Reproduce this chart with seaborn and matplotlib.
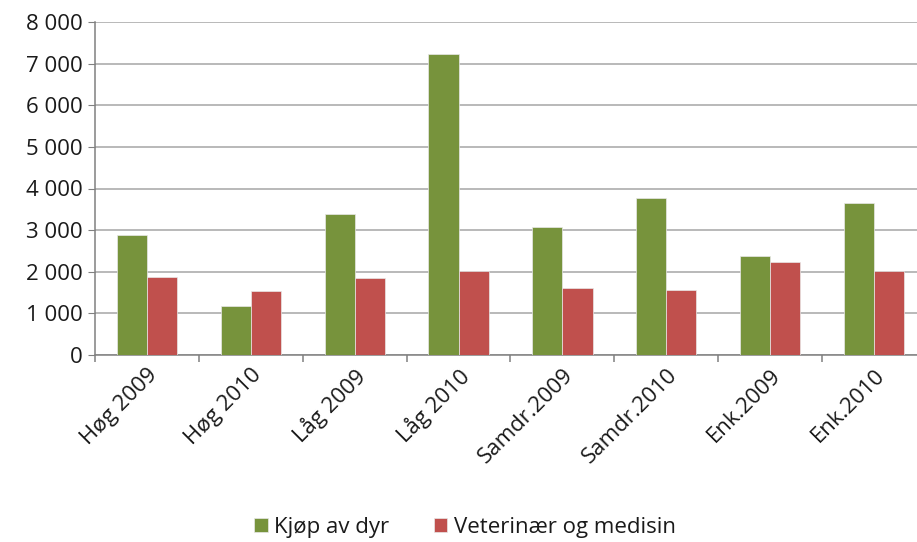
import pandas as pd
import matplotlib.pyplot as plt
import matplotlib.ticker as mticker
import seaborn as sns

# Data
categories = ['Høg 2009', 'Høg 2010', 'Låg 2009', 'Låg 2010',
              'Samdr.2009', 'Samdr.2010', 'Enk.2009', 'Enk.2010']
kjop_av_dyr = [2890, 1180, 3390, 7240, 3080, 3770, 2380, 3650]
veterinaer = [1880, 1540, 1850, 2010, 1610, 1570, 2230, 2010]
series_names = ['Kjøp av dyr', 'Veterinær og medisin']

df = pd.DataFrame({
    'kategori': categories * 2,
    'verdi': kjop_av_dyr + veterinaer,
    'serie': [series_names[0]] * len(categories) + [series_names[1]] * len(categories),
})

sns.set_style('white')
plt.rcParams['font.family'] = ['Open Sans', 'DejaVu Sans']

fig = plt.figure(figsize=(9.17, 5.42), dpi=100)
ax = fig.add_axes([95 / 917, 187 / 542, 831 / 917, 333 / 542])

sns.barplot(data=df, x='kategori', y='verdi', hue='serie',
            palette=['#77933C', '#C0504D'], saturation=1, width=0.58,
            edgecolor='#e8e8e8', linewidth=0.5, ax=ax, zorder=3)

ax.set_xlim(-0.5, len(categories) - 0.5)
ax.set_ylim(0, 8000)
ax.yaxis.set_major_locator(mticker.MultipleLocator(1000))
ax.yaxis.set_major_formatter(mticker.FuncFormatter(lambda v, p: f'{int(v):,}'.replace(',', ' ')))
ax.grid(axis='y', color='#a6a6a6', linewidth=1.1, zorder=0)
ax.set_axisbelow(True)

for s in ['top', 'right']:
    ax.spines[s].set_visible(False)
for s in ['left', 'bottom']:
    ax.spines[s].set_color('#808080')
    ax.spines[s].set_linewidth(1.1)

ax.set_xlabel('')
ax.set_ylabel('')
ax.tick_params(axis='y', which='major', left=True, length=5, color='#808080',
               labelsize=16, labelcolor='#1a1a1a', pad=4)
ax.tick_params(axis='x', which='major', length=0, labelsize=16, labelcolor='#1a1a1a', pad=7)
ax.set_xticks([i + 0.5 for i in range(-1, len(categories))], minor=True)
ax.tick_params(axis='x', which='minor', bottom=True, length=5, color='#808080', width=1.1)
plt.setp(ax.get_xticklabels(), rotation=45, ha='right', rotation_mode='anchor')

handles, labels = ax.get_legend_handles_labels()
ax.get_legend().remove()
fig.legend(handles, labels, loc='center', bbox_to_anchor=(465 / 917, 1 - 527 / 542),
           ncol=2, frameon=False, fontsize=16, handlelength=0.6, handleheight=0.6,
           handletextpad=0.3, columnspacing=2.0, labelcolor='#1a1a1a')

fig.savefig('out.png', dpi=100)
